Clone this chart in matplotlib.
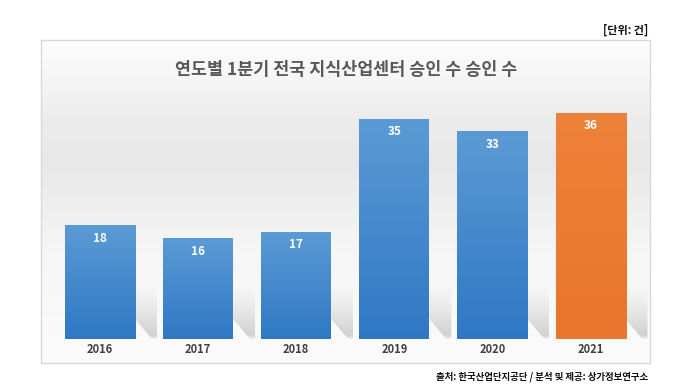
import numpy as np
import matplotlib
matplotlib.use("Agg")
import matplotlib.pyplot as plt
from matplotlib.colors import LinearSegmentedColormap
from matplotlib.patches import Polygon

plt.rcParams['font.family'] = ['Noto Sans CJK KR', 'DejaVu Sans']

years = ['2016', '2017', '2018', '2019', '2020', '2021']
values = [18, 16, 17, 35, 33, 36]
title = '연도별 1분기 전국 지식산업센터 승인 수 승인 수'
unit_text = '[단위: 건]'
source_text = '출처: 한국산업단지공단 / 분석 및 제공: 상가정보연구소'

W, H = 680, 390
fig = plt.figure(figsize=(W / 100, H / 100), dpi=100)
fig.patch.set_facecolor('white')

# panel in pixel coords
pl, pr, pt, pb = 41, 650, 40, 363
ax = fig.add_axes([pl / W, 1 - pb / H, (pr - pl) / W, (pb - pt) / H])

base_px, top36_px = 339, 113
upp = 36 / (base_px - top36_px)
ylo = -(pb - base_px) * upp
yhi = 36 + (top36_px - pt) * upp
c0, step = 100, 98.1
xlo = -(c0 - pl) / step
xhi = 5 + (pr - (c0 + 5 * step)) / step


def py(px):
    return (base_px - px) * upp


# background gradient
bg_cmap = LinearSegmentedColormap.from_list('bg', [
    (0.0, '#fbfbfb'), (0.35, '#f6f6f6'), (0.62, '#e8e8e8'),
    (0.75, '#ececec'), (0.92, '#f8f8f8'), (1.0, '#fdfdfd')])
grad = np.linspace(0, 1, 256).reshape(-1, 1)
ax.imshow(grad, extent=[xlo, xhi, yhi, ylo], aspect='auto', cmap=bg_cmap,
          origin='upper', zorder=0)

# shadow gradient image (RGBA), transparent at top -> gray at bottom
n = 128
sh = np.zeros((n, 1, 4))
t = np.linspace(0, 1, n)  # 0 = top, 1 = bottom
sh[:, 0, 0:3] = 0.70
alpha = np.clip(t * 1.1, 0, 1) ** 1.3 * 0.55
alpha[t > 0.93] *= np.linspace(1, 0.3, (t > 0.93).sum())
sh[:, 0, 3] = alpha

blue_cmap = LinearSegmentedColormap.from_list('b', ['#2f78c4', '#5b9bd5'])
orange_cmap = LinearSegmentedColormap.from_list('o', ['#e8762b', '#ee8238'])
bw = 70 / step
for i, v in enumerate(values):
    cm = orange_cmap if i == len(values) - 1 else blue_cmap
    xr = i + bw / 2
    d = 1 / step
    poly = Polygon([(xr, py(319)), (xr, py(290)), (xr + 22 * d, py(284)),
                    (xr + 22 * d, py(base_px)), (xr + 17 * d, py(base_px))],
                   closed=True, facecolor='none', edgecolor='none')
    ax.add_patch(poly)
    im = ax.imshow(sh, extent=[xr, xr + 22 * d, py(base_px), py(284)],
                   origin='upper', aspect='auto', zorder=1)
    im.set_clip_path(poly)
    ax.imshow(np.linspace(0, 1, 256).reshape(-1, 1),
              extent=[i - bw / 2, i + bw / 2, 0, v], origin='lower',
              aspect='auto', cmap=cm, zorder=2)
    ax.text(i, v - 2.0, str(v), ha='center', va='center', color='white',
            fontsize=8.5, fontweight='bold', zorder=3)
    ax.text(i, -1.75, years[i], ha='center', va='center', color='#404040',
            fontsize=8, fontweight='bold', zorder=3)

ax.set_xlim(xlo, xhi)
ax.set_ylim(ylo, yhi)
ax.set_xticks([])
ax.set_yticks([])
for s in ax.spines.values():
    s.set_color('#d9d9d9')
    s.set_linewidth(1)

fig.text(346 / W, 1 - 70 / H, title, ha='center', va='center',
         fontsize=12.5, fontweight='bold', color='#595959')
fig.text(648 / W, 1 - 30 / H, unit_text, ha='right', va='center',
         fontsize=8, fontweight='bold', color='#111111')
fig.text(648 / W, 1 - 377 / H, source_text, ha='right', va='center',
         fontsize=6.8, fontweight='bold', color='#111111')

fig.savefig('out.png', dpi=100, facecolor='white')
